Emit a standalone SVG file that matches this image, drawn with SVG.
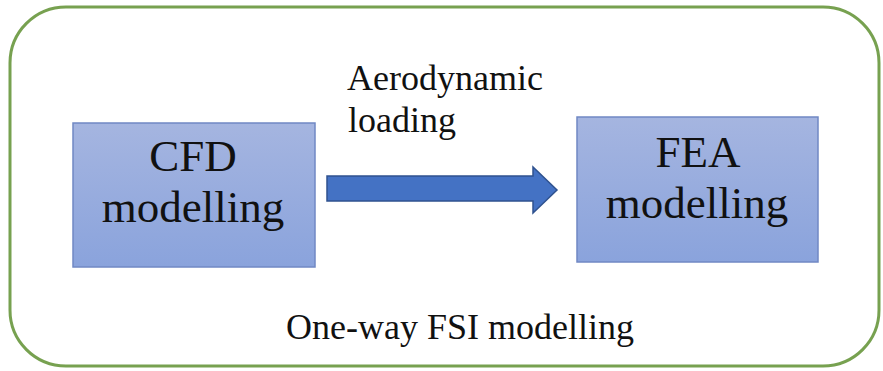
<svg xmlns="http://www.w3.org/2000/svg" width="883" height="371" viewBox="0 0 883 371">
<defs>
<linearGradient id="boxg" x1="0" y1="0" x2="0" y2="1">
<stop offset="0" stop-color="#a5b5e0"/>
<stop offset="1" stop-color="#8aa3dc"/>
</linearGradient>
<style>
.box{fill:url(#boxg);stroke:#7088c4;stroke-width:1.5}
text{font-family:'Liberation Serif','Times New Roman',Tinos,serif;fill:#111;text-anchor:middle}
.big{font-size:45px}
.mid{font-size:36px}
</style>
</defs>
<rect x="10" y="7" width="869" height="359" rx="56" ry="56" fill="#ffffff" stroke="#77a150" stroke-width="3"/>
<g id="cfd">
<rect class="box" x="73" y="123" width="242" height="144"/>
<text class="big" x="193" y="171">CFD<tspan x="193" y="222">modelling</tspan></text>
</g>
<g id="fea">
<rect class="box" x="577" y="117" width="241" height="145"/>
<text class="big" x="698" y="167">FEA<tspan x="697" y="218">modelling</tspan></text>
</g>
<g id="connectors">
<path d="M327,176 L533,176 L533,167 L557,190 L533,213 L533,201 L327,201 Z" fill="#4472c4" stroke="#2f528f" stroke-width="1.5"/>
<text class="mid" x="445" y="90">Aerodynamic<tspan x="348" y="132" text-anchor="start">loading</tspan></text>
</g>
<text style="font-size:36px" x="460" y="339">One-way FSI modelling</text>
</svg>
